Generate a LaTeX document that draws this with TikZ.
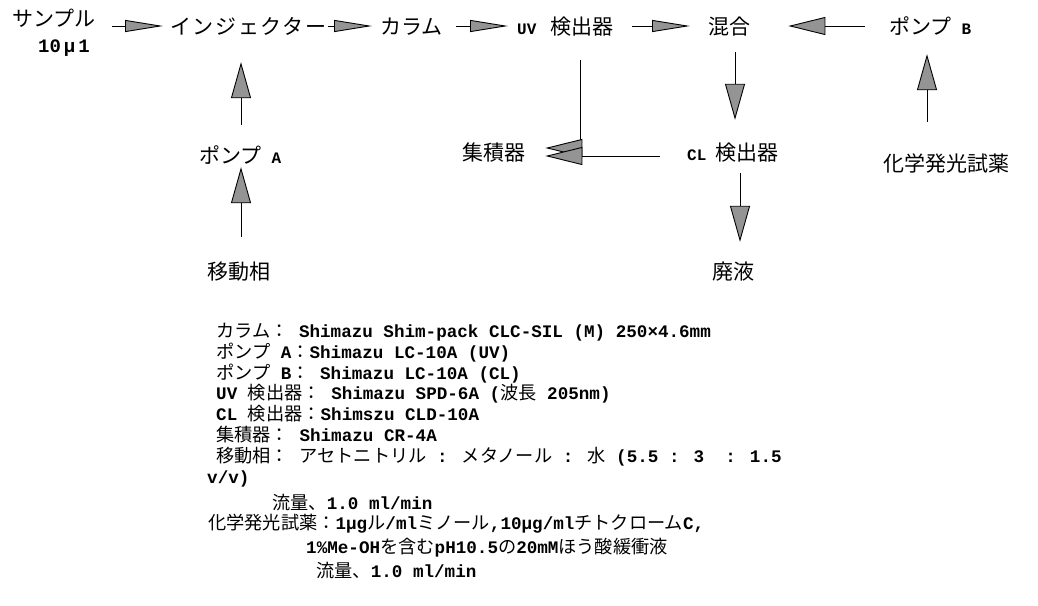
\documentclass[tikz,border=0pt]{standalone}
\usepackage{fontspec}
\newfontfamily\jp{Noto Sans CJK JP}
\newfontfamily\mo{Liberation Mono}
\usetikzlibrary{arrows.meta}
\definecolor{tipgray}{gray}{0.58}
\newcommand\jt[1]{{\jp\fontsize{18.2}{21}\selectfont #1}}
\newcommand\mt[1]{{\mo\bfseries\fontsize{17.6}{21}\selectfont #1}}
\newcommand\ms[1]{{\mo\bfseries\fontsize{16}{20}\selectfont #1}}
\begin{document}
\begin{tikzpicture}[x=1pt,y=-1pt,
  lbl/.style={inner sep=0pt, anchor=west, text height=16pt, text depth=0pt,
              font=\jp\fontsize{21}{25}\selectfont},
  line/.style={inner sep=0pt, anchor=base west},
  conn/.style={line width=0.9pt, black},
  harr/.style={conn, -{Triangle[length=38pt,width=12pt,fill=tipgray]}},
  larr/.style={conn, -{Triangle[length=37pt,width=18pt,fill=tipgray]}},
  varr/.style={conn, -{Triangle[length=36pt,width=20pt,fill=tipgray]}},
  iarr/.style={conn, -{Triangle[length=37pt,width=18pt,fill=tipgray]}}]
\useasboundingbox (0,0) rectangle (1038,605);
\fill[white] (0,0) rectangle (1038,605);

% ---- diagram nodes
\node[lbl] (samp)  at (12,19)  {サンプル};
\node[lbl] (samp2) at (38,44)  {{\mo\bfseries\fontsize{19}{22}\selectfont 10\hspace{3pt}μ\hspace{3pt}1}};
\node[lbl] (inj)   at (170,26) {\addfontfeature{LetterSpace=8}インジェクター};
\node[lbl] (col)   at (380,26) {カラム};
\node[lbl] (uv)    at (517,26) {\ms{UV}\hspace{14pt}検出器};
\node[lbl] (mix)   at (708,26) {混合};
\node[lbl] (pb)    at (889,26) {ポンプ\hspace{10pt}\ms{B}};
\node[lbl] (pa)    at (199,155) {ポンプ\hspace{10pt}\ms{A}};
\node[lbl] (mob)   at (207,271) {移動相};
\node[lbl] (int)   at (462,152) {集積器};
\node[lbl] (cl)    at (687,152) {\ms{CL}\hspace{9pt}検出器};
\node[lbl] (waste) at (712,271) {廃液};
\node[lbl] (reag)  at (883,163) {化学発光試薬};

\coordinate (axA) at (241,0);
\coordinate (axU) at (580,0);
\coordinate (axM) at (735,0);
\coordinate (axC) at (740,0);
\coordinate (axB) at (927,0);

% ---- connectors
\draw[harr, shorten <=16pt, shorten >=7pt] (samp.east |- inj.west) -- (inj.west);
\draw[harr, shorten <=1pt, shorten >=8pt] (inj.east) -- (col.west);
\draw[harr, shorten <=13pt, shorten >=9pt] (col.east) -- (uv.west);
\draw[harr, shorten <=18pt, shorten >=18pt] (uv.east) -- (mix.west);
\draw[larr, shorten <=24pt, shorten >=38pt] (pb.west) -- (mix.east);
\draw[varr, shorten <=22pt, shorten >=28pt] (pa.north -| axA) -- (inj.south -| axA);
\draw[varr, shorten <=26pt, shorten >=4pt] (mob.north -| axA) -- (pa.south -| axA);
\draw[varr, shorten <=33pt, shorten >=20pt] (reag.north -| axB) -- (pb.south -| axB);
\draw[varr, shorten <=18pt, shorten >=24pt] (mix.south -| axM) -- (cl.north -| axM);
\draw[varr, shorten <=13pt, shorten >=21pt] (cl.south -| axC) -- (waste.north -| axC);
\draw[iarr, shorten <=26pt, shorten >=20pt] (uv.south -| axU) |- ([yshift=4pt]int.east);
\draw[iarr, shorten <=27pt, shorten >=20pt] ([yshift=-4pt]cl.west) -- ([yshift=-4pt]int.east);

% ---- legend text
\node[line] (l1)  at (216,337) {\jt{カラム：}\mt{ Shimazu Shim-pack CLC-SIL (M) 250×4.6mm}};
\node[line] (l2)  at (216,358) {\jt{ポンプ}\mt{ A}\jt{：}\mt{Shimazu LC-10A (UV)}};
\node[line] (l3)  at (216,379) {\jt{ポンプ}\mt{ B}\jt{：}\mt{ Shimazu LC-10A (CL)}};
\node[line] (l4)  at (216,399) {\mt{UV }\jt{検出器：}\mt{ Shimazu SPD-6A (}\jt{波長}\mt{ 205nm)}};
\node[line] (l5)  at (216,420) {\mt{CL }\jt{検出器：}\mt{Shimszu CLD-10A}};
\node[line] (l6)  at (216,441) {\jt{集積器：}\mt{ Shimazu CR-4A}};
\node[line] (l7)  at (216,462) {\jt{移動相：}\mt{ }\jt{アセトニトリル}\mt{ : }\jt{メタノール}\mt{ : }\jt{水}\mt{ (5.5 : 3~~: 1.5}};
\node[line] (l8)  at (207,483) {\mt{v/v)}};
\node[line] (l9)  at (272,509) {\jt{流量、}\mt{1.0 ml/min}};
\node[line] (l10) at (208,529) {\jt{化学発光試薬：}\mt{1μg}\jt{ル}\mt{/ml}\jt{ミノール}\mt{,10μg/ml}\jt{チトクローム}\mt{C,}};
\node[line] (l11) at (306,553) {\mt{1\%Me-OH}\jt{を含む}\mt{pH10.5}\jt{の}\mt{20mM}\jt{ほう酸緩衝液}};
\node[line] (l12) at (316,577) {\jt{流量、}\mt{1.0 ml/min}};
\end{tikzpicture}
\end{document}
